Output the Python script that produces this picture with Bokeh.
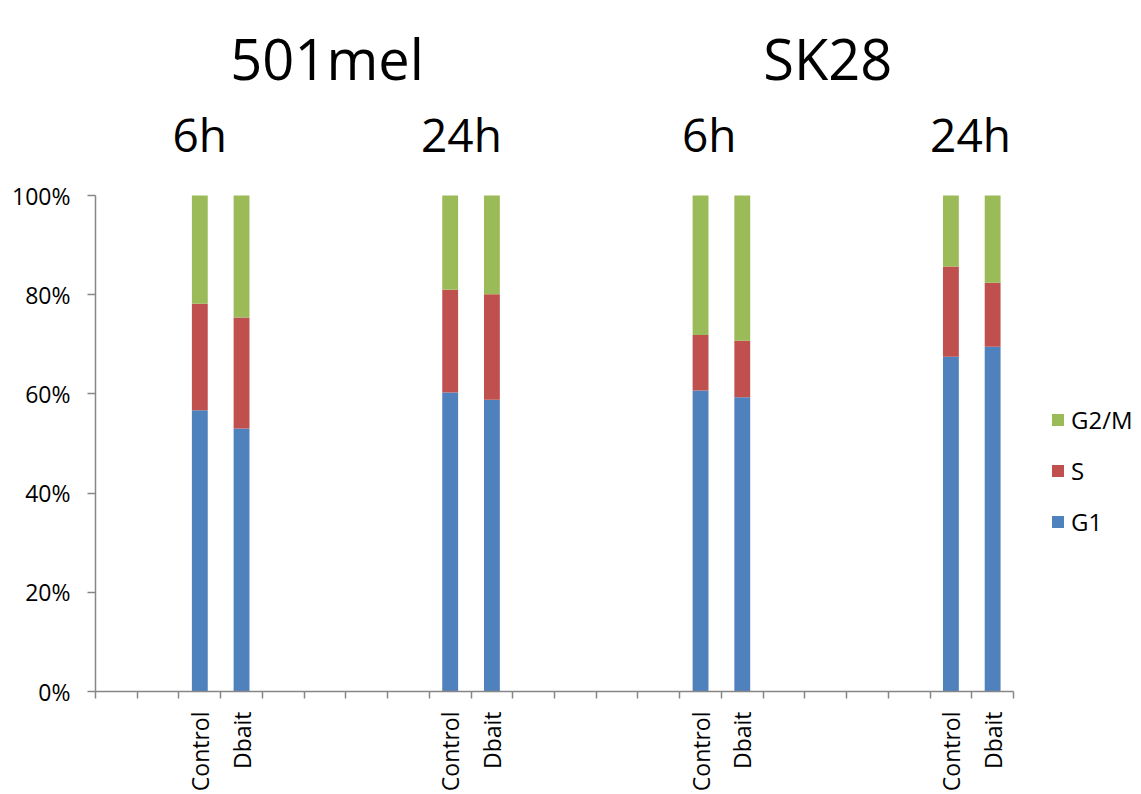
from bokeh.plotting import figure
from bokeh.models import (Range1d, FixedTicker, Legend, LegendItem,
                          NumeralTickFormatter, ColumnDataSource)
from bokeh.core.properties import value
from bokeh.embed import file_html
from bokeh.resources import INLINE

# ---- data ----
slot_labels = ["", "", "Control", "Dbait", "", "", "", "",
               "Control", "Dbait", "", "", "", "",
               "Control", "Dbait", "", "", "", "",
               "Control", "Dbait"]
cell_lines = ["501mel", "SK28"]
times = ["6h", "24h"]
series = ["G1", "S", "G2/M"]
g1 = [56.7, 53.0, 60.3, 58.8, 60.7, 59.3, 67.5, 69.5]
s_phase = [21.5, 22.4, 20.7, 21.3, 11.2, 11.4, 18.2, 12.9]
g2m = [21.8, 24.6, 19.0, 19.9, 28.1, 29.3, 14.3, 17.6]
y_ticks = [0, 0.2, 0.4, 0.6, 0.8, 1.0]

colors = ["#4F81BD", "#C0504D", "#9BBB59"]
FONT = "Open Sans"
AXIS_COLOR = "#868686"
W, H = 1141, 794
LEFT, BOTTOM = 95, 103
PLOT_W, PLOT_H = 918, 496   # pixel size of the 0..22 x 0..1 data area

n_slots = len(slot_labels)
bar_slots = [i for i, l in enumerate(slot_labels) if l]
bar_x = [i + 0.5 for i in bar_slots]

src = ColumnDataSource(dict(
    x=bar_x,
    G1=[v / 100 for v in g1],
    S=[v / 100 for v in s_phase],
    **{"G2/M": [v / 100 for v in g2m]},
))

# frame spans the whole area right of the y axis and above the x axis,
# so titles and legend live inside it; axes are bounded to the data area
x_end = n_slots * (W - LEFT) / PLOT_W
y_end = (H - BOTTOM) / PLOT_H

p = figure(width=W, height=H, output_backend="svg", toolbar_location=None,
           x_range=Range1d(0, x_end), y_range=Range1d(0, y_end),
           min_border_left=LEFT, min_border_top=0, min_border_right=0,
           min_border_bottom=BOTTOM)
p.outline_line_color = None
p.xgrid.visible = False
p.ygrid.visible = False

rs = p.vbar_stack(series, x="x", width=0.38, source=src, color=colors,
                  line_color=None)

# titles
pairs = [bar_x[k:k + 2] for k in range(0, len(bar_x), 2)]
centers = [sum(pr) / 2 for pr in pairs]
time_offsets = [-0.5, -0.23, -0.29, -0.03]
tx = [c + o for c, o in zip(centers, time_offsets)]
tlab = [times[k % 2] for k in range(len(centers))]
p.text(x=tx, y=[1.125] * len(tx), text=tlab, text_font=value(FONT),
       text_font_size="46px", text_align="center",
       text_baseline="alphabetic", text_color="black")
cx = [(centers[2 * j] + centers[2 * j + 1]) / 2 - 0.45 for j in range(len(cell_lines))]
p.text(x=cx, y=[1.278] * len(cx), text=cell_lines, text_font=value(FONT),
       text_font_size="56px", text_align="center",
       text_baseline="alphabetic", text_color="black")

# x axis: boundary ticks (minor) and labels at bar centres (major)
xa = p.xaxis[0]
xa.bounds = (0, n_slots)
xa.ticker = FixedTicker(ticks=bar_x, minor_ticks=list(range(n_slots + 1)))
xa.major_label_overrides = {x: slot_labels[i] for x, i in zip(bar_x, bar_slots)}
xa.major_tick_out = 0
xa.major_tick_in = 0
xa.minor_tick_out = 7
xa.minor_tick_in = 0
xa.major_label_orientation = 3.14159265 / 2
xa.major_label_standoff = 13
xa.major_label_text_font = FONT
xa.major_label_text_font_size = "23px"
xa.major_label_text_color = "black"
xa.axis_line_color = AXIS_COLOR
xa.axis_line_width = 1.5
xa.minor_tick_line_color = AXIS_COLOR
xa.minor_tick_line_width = 1.5

ya = p.yaxis[0]
ya.bounds = (0, 1)
ya.ticker = FixedTicker(ticks=y_ticks, minor_ticks=[])
ya.formatter = NumeralTickFormatter(format="0%")
ya.major_tick_out = 8
ya.major_tick_in = 0
ya.minor_tick_out = 0
ya.minor_tick_in = 0
ya.major_label_standoff = 17
ya.major_label_text_font = FONT
ya.major_label_text_font_size = "23px"
ya.major_label_text_color = "black"
ya.axis_line_color = AXIS_COLOR
ya.axis_line_width = 1.5
ya.major_tick_line_color = AXIS_COLOR
ya.major_tick_line_width = 1.5

items = [LegendItem(label=series[i], renderers=[rs[i]]) for i in (2, 1, 0)]
legend = Legend(items=items, location=(955, 153), orientation="vertical",
                glyph_width=15, glyph_height=15, label_standoff=6,
                spacing=18, padding=0, margin=0,
                label_text_font=FONT, label_text_font_size="24px",
                label_text_color="black",
                border_line_color=None, background_fill_alpha=0)
p.add_layout(legend, "center")

open("out.html", "w").write(file_html(p, INLINE))
